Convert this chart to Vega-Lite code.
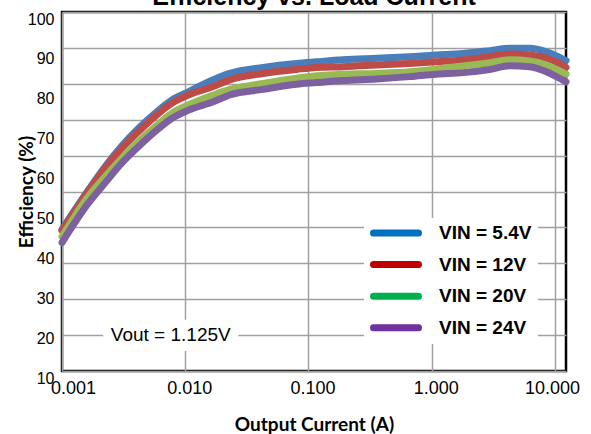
{
  "$schema": "https://vega.github.io/schema/vega-lite/v6.json",
  "width": 504,
  "height": 359,
  "autosize": {"type": "none"},
  "padding": {"left": 62, "top": 12, "right": 25, "bottom": 63},
  "background": "white",
  "title": {"text": "Efficiency vs. Load Current", "font": "Liberation Sans", "fontSize": 25, "fontWeight": "bold", "color": "black", "offset": 1.5, "anchor": "middle", "frame": "group"},
  "datasets": {
    "curves": [
      {"s": "VIN = 5.4V", "I": 0.001, "E": 45.5},
      {"s": "VIN = 5.4V", "I": 0.00163, "E": 55.3},
      {"s": "VIN = 5.4V", "I": 0.00223, "E": 61.2},
      {"s": "VIN = 5.4V", "I": 0.00305, "E": 66.4},
      {"s": "VIN = 5.4V", "I": 0.00416, "E": 70.8},
      {"s": "VIN = 5.4V", "I": 0.00568, "E": 74.6},
      {"s": "VIN = 5.4V", "I": 0.00776, "E": 77.9},
      {"s": "VIN = 5.4V", "I": 0.0106, "E": 80.0},
      {"s": "VIN = 5.4V", "I": 0.0169, "E": 83.0},
      {"s": "VIN = 5.4V", "I": 0.023, "E": 84.6},
      {"s": "VIN = 5.4V", "I": 0.0429, "E": 86.1},
      {"s": "VIN = 5.4V", "I": 0.08, "E": 87.1},
      {"s": "VIN = 5.4V", "I": 0.116, "E": 87.5},
      {"s": "VIN = 5.4V", "I": 0.191, "E": 88.0},
      {"s": "VIN = 5.4V", "I": 0.357, "E": 88.4},
      {"s": "VIN = 5.4V", "I": 0.664, "E": 88.8},
      {"s": "VIN = 5.4V", "I": 1.09, "E": 89.2},
      {"s": "VIN = 5.4V", "I": 1.8, "E": 89.6},
      {"s": "VIN = 5.4V", "I": 2.96, "E": 90.3},
      {"s": "VIN = 5.4V", "I": 4.3, "E": 90.9},
      {"s": "VIN = 5.4V", "I": 6.25, "E": 90.9},
      {"s": "VIN = 5.4V", "I": 8.53, "E": 90.0},
      {"s": "VIN = 5.4V", "I": 10.3, "E": 89.0},
      {"s": "VIN = 5.4V", "I": 12.3, "E": 87.8},
      {"s": "VIN = 12V", "I": 0.001, "E": 45.2},
      {"s": "VIN = 12V", "I": 0.00163, "E": 55.0},
      {"s": "VIN = 12V", "I": 0.00223, "E": 60.8},
      {"s": "VIN = 12V", "I": 0.00305, "E": 65.8},
      {"s": "VIN = 12V", "I": 0.00416, "E": 70.0},
      {"s": "VIN = 12V", "I": 0.00568, "E": 73.8},
      {"s": "VIN = 12V", "I": 0.00776, "E": 77.1},
      {"s": "VIN = 12V", "I": 0.0106, "E": 79.2},
      {"s": "VIN = 12V", "I": 0.0169, "E": 81.3},
      {"s": "VIN = 12V", "I": 0.023, "E": 83.0},
      {"s": "VIN = 12V", "I": 0.0429, "E": 84.6},
      {"s": "VIN = 12V", "I": 0.08, "E": 85.6},
      {"s": "VIN = 12V", "I": 0.116, "E": 86.1},
      {"s": "VIN = 12V", "I": 0.191, "E": 86.3},
      {"s": "VIN = 12V", "I": 0.357, "E": 86.7},
      {"s": "VIN = 12V", "I": 0.664, "E": 87.1},
      {"s": "VIN = 12V", "I": 1.09, "E": 87.5},
      {"s": "VIN = 12V", "I": 1.8, "E": 88.0},
      {"s": "VIN = 12V", "I": 2.96, "E": 88.8},
      {"s": "VIN = 12V", "I": 4.3, "E": 89.5},
      {"s": "VIN = 12V", "I": 6.25, "E": 89.2},
      {"s": "VIN = 12V", "I": 8.53, "E": 88.4},
      {"s": "VIN = 12V", "I": 10.3, "E": 87.4},
      {"s": "VIN = 12V", "I": 12.3, "E": 86.1},
      {"s": "VIN = 20V", "I": 0.001, "E": 43.7},
      {"s": "VIN = 20V", "I": 0.00163, "E": 53.7},
      {"s": "VIN = 20V", "I": 0.00223, "E": 58.7},
      {"s": "VIN = 20V", "I": 0.00305, "E": 63.3},
      {"s": "VIN = 20V", "I": 0.00416, "E": 67.5},
      {"s": "VIN = 20V", "I": 0.00568, "E": 71.2},
      {"s": "VIN = 20V", "I": 0.00776, "E": 74.6},
      {"s": "VIN = 20V", "I": 0.0106, "E": 76.7},
      {"s": "VIN = 20V", "I": 0.0169, "E": 79.2},
      {"s": "VIN = 20V", "I": 0.023, "E": 80.6},
      {"s": "VIN = 20V", "I": 0.0429, "E": 82.1},
      {"s": "VIN = 20V", "I": 0.08, "E": 83.4},
      {"s": "VIN = 20V", "I": 0.116, "E": 84.0},
      {"s": "VIN = 20V", "I": 0.191, "E": 84.4},
      {"s": "VIN = 20V", "I": 0.357, "E": 84.6},
      {"s": "VIN = 20V", "I": 0.664, "E": 85.0},
      {"s": "VIN = 20V", "I": 1.09, "E": 85.7},
      {"s": "VIN = 20V", "I": 1.8, "E": 86.5},
      {"s": "VIN = 20V", "I": 2.96, "E": 87.3},
      {"s": "VIN = 20V", "I": 4.3, "E": 88.0},
      {"s": "VIN = 20V", "I": 6.25, "E": 87.7},
      {"s": "VIN = 20V", "I": 8.53, "E": 86.7},
      {"s": "VIN = 20V", "I": 10.3, "E": 85.6},
      {"s": "VIN = 20V", "I": 12.3, "E": 84.4},
      {"s": "VIN = 24V", "I": 0.001, "E": 42.2},
      {"s": "VIN = 24V", "I": 0.00163, "E": 52.0},
      {"s": "VIN = 24V", "I": 0.00223, "E": 57.1},
      {"s": "VIN = 24V", "I": 0.00305, "E": 62.1},
      {"s": "VIN = 24V", "I": 0.00416, "E": 66.2},
      {"s": "VIN = 24V", "I": 0.00568, "E": 70.0},
      {"s": "VIN = 24V", "I": 0.00776, "E": 73.3},
      {"s": "VIN = 24V", "I": 0.0106, "E": 75.4},
      {"s": "VIN = 24V", "I": 0.0169, "E": 77.5},
      {"s": "VIN = 24V", "I": 0.023, "E": 79.2},
      {"s": "VIN = 24V", "I": 0.0429, "E": 80.6},
      {"s": "VIN = 24V", "I": 0.08, "E": 81.9},
      {"s": "VIN = 24V", "I": 0.116, "E": 82.3},
      {"s": "VIN = 24V", "I": 0.191, "E": 82.8},
      {"s": "VIN = 24V", "I": 0.357, "E": 83.2},
      {"s": "VIN = 24V", "I": 0.664, "E": 83.8},
      {"s": "VIN = 24V", "I": 1.09, "E": 84.4},
      {"s": "VIN = 24V", "I": 1.8, "E": 84.8},
      {"s": "VIN = 24V", "I": 2.96, "E": 85.6},
      {"s": "VIN = 24V", "I": 4.3, "E": 86.5},
      {"s": "VIN = 24V", "I": 6.25, "E": 86.3},
      {"s": "VIN = 24V", "I": 8.53, "E": 85.0},
      {"s": "VIN = 24V", "I": 10.3, "E": 83.8},
      {"s": "VIN = 24V", "I": 12.3, "E": 82.5}
    ],
    "note": [
      {"note": "Vout = 1.125V", "I": 0.00763, "E": 19}
    ]
  },
  "layer": [
    {
      "data": {"name": "curves"},
      "mark": {"type": "line", "strokeWidth": 4, "interpolate": "monotone"},
      "encoding": {
        "x": {"field": "I", "type": "quantitative", "scale": {"type": "log", "domain": [0.001, 12.3], "nice": false},
          "axis": {"values": [0.001, 0.01, 0.1, 1, 10], "format": ".3f", "grid": true, "labelFlush": false, "labelFontSize": 18, "labelPadding": 8,
            "labelOffset": {"condition": [{"test": "datum.value < 0.002", "value": 11}, {"test": "datum.value > 5", "value": -3}], "value": 4},
            "title": "Output Current (A)", "titlePadding": 18}},
        "y": {"field": "E", "type": "quantitative", "scale": {"domain": [10, 100], "nice": false, "zero": false},
          "axis": {"orient": "left", "values": [10, 19, 28, 37, 46, 55, 64, 73, 82, 91, 100], "grid": true, "labels": false, "ticks": false, "domain": false, "title": null}},
        "stroke": {"field": "s", "type": "nominal",
          "scale": {"domain": ["VIN = 5.4V", "VIN = 12V", "VIN = 20V", "VIN = 24V"], "range": ["#0070C0", "#C00000", "#00B050", "#7030A0"]},
          "legend": {"orient": "none", "legendX": 302, "legendY": 206, "title": null, "fillColor": "white", "padding": 6,
            "symbolType": "stroke", "symbolSize": 2025, "symbolStrokeWidth": 7, "symbolOffset": 0, "clipHeight": 18, "rowPadding": 12.6,
            "labelOffset": 17, "labelFont": "Liberation Sans", "labelFontSize": 19, "labelFontWeight": "bold", "labelColor": "black", "symbolOpacity": 1,
            "encode": {"symbols": {"update": {"strokeCap": {"value": "round"}}}}}}
      }
    },
    {
      "data": {"name": "curves"},
      "mark": {"type": "line", "strokeWidth": 7, "interpolate": "monotone", "strokeJoin": "round", "strokeCap": "round"},
      "encoding": {
        "x": {"field": "I", "type": "quantitative", "scale": {"type": "log", "domain": [0.001, 12.3], "nice": false}},
        "y": {"field": "E", "type": "quantitative", "scale": {"domain": [10, 100], "nice": false, "zero": false},
          "axis": {"orient": "left", "values": [10, 20, 30, 40, 50, 60, 70, 80, 90, 100], "grid": false, "labelFontSize": 16, "labelOffset": 7, "labelPadding": 8,
            "title": "Efficiency (%)", "titleX": -30, "titleY": 179.5, "titleBaseline": "alphabetic", "titleAngle": -90}},
        "color": {"field": "s", "type": "nominal",
          "scale": {"domain": ["VIN = 5.4V", "VIN = 12V", "VIN = 20V", "VIN = 24V"], "range": ["#4A7EBB", "#BE4B48", "#98B954", "#7D60A0"]},
          "legend": null}
      }
    },
    {
      "data": {"name": "note"},
      "mark": {"type": "text", "font": "Liberation Sans", "fontSize": 19, "stroke": "white", "strokeWidth": 20, "strokeJoin": "round", "fill": "white", "baseline": "middle"},
      "encoding": {
        "x": {"field": "I", "type": "quantitative"},
        "y": {"field": "E", "type": "quantitative", "axis": null},
        "text": {"field": "note"}
      }
    },
    {
      "data": {"name": "note"},
      "mark": {"type": "text", "font": "Liberation Sans", "fontSize": 19, "fill": "black", "baseline": "middle"},
      "encoding": {
        "x": {"field": "I", "type": "quantitative"},
        "y": {"field": "E", "type": "quantitative", "axis": null},
        "text": {"field": "note"}
      }
    }
  ],
  "resolve": {"axis": {"y": "independent"}},
  "config": {
    "view": {"stroke": "black", "strokeWidth": 2.5},
    "axis": {"gridColor": "#A0A0A0", "gridWidth": 1.5, "gridOpacity": 1, "domain": false, "ticks": false,
      "labelFont": "Liberation Sans", "labelColor": "black",
      "titleFont": "Lato", "titleFontWeight": "bold", "titleColor": "black", "titleFontSize": 19}
  }
}
